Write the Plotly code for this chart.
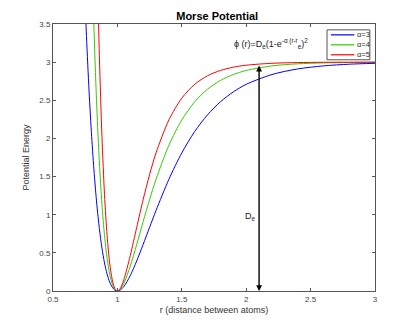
import plotly.graph_objects as go

# distance r (shared sample points)
r3 = [0.74, 0.76, 0.78, 0.80, 0.82, 0.84, 0.86, 0.88, 0.90, 0.92, 0.94, 0.96, 0.98, 1.00,
      1.02, 1.05, 1.10, 1.15, 1.20, 1.25, 1.30, 1.40, 1.50, 1.60, 1.70, 1.80, 1.90, 2.00,
      2.20, 2.40, 2.60, 2.80, 3.00]
v3 = [4.188, 3.335, 2.622, 2.028, 1.538, 1.139, 0.817, 0.563, 0.367, 0.221, 0.117, 0.049, 0.011, 0.0,
      0.010, 0.058, 0.202, 0.394, 0.611, 0.835, 1.056, 1.465, 1.811, 2.090, 2.310, 2.480, 2.610, 2.709,
      2.838, 2.911, 2.951, 2.973, 2.985]

r4 = [0.80, 0.82, 0.84, 0.86, 0.88, 0.90, 0.92, 0.94, 0.96, 0.98, 1.00,
      1.02, 1.05, 1.10, 1.15, 1.20, 1.25, 1.30, 1.40, 1.50, 1.60, 1.70, 1.80, 1.90, 2.00,
      2.20, 2.40, 2.60, 2.80, 3.00]
v4 = [4.506, 3.335, 2.411, 1.691, 1.139, 0.726, 0.427, 0.221, 0.090, 0.021, 0.0,
      0.018, 0.099, 0.326, 0.611, 0.910, 1.199, 1.465, 1.911, 2.243, 2.480, 2.646, 2.760, 2.838, 2.891,
      2.951, 2.978, 2.990, 2.9955, 2.998]

r5 = [0.84, 0.86, 0.88, 0.90, 0.92, 0.94, 0.96, 0.98, 1.00,
      1.02, 1.05, 1.10, 1.15, 1.20, 1.25, 1.30, 1.40, 1.50, 1.60, 1.70, 1.80, 1.90, 2.00,
      2.20, 2.40, 2.60, 2.80, 3.00]
v5 = [4.506, 3.083, 2.028, 1.262, 0.726, 0.367, 0.147, 0.033, 0.0,
      0.027, 0.147, 0.465, 0.835, 1.199, 1.527, 1.811, 2.243, 2.528, 2.709, 2.822, 2.891, 2.934, 2.960,
      2.985, 2.9945, 2.998, 2.999, 3.000]

series_names = ["α=3", "α=4", "α=5"]
series_colors = ["#0000ff", "#33cc00", "#ff0000"]

x_ticks = [0.5, 1, 1.5, 2, 2.5, 3]
x_tick_labels = ["0.5", "1", "1.5", "2", "2.5", "3"]
y_ticks = [0, 0.5, 1, 1.5, 2, 2.5, 3, 3.5]
y_tick_labels = ["0", "0.5", "1", "1.5", "2", "2.5", "3", "3.5"]

arrow_x = 2.1
arrow_top = 2.955
de_label_pos = (2.03, 0.98)
formula_pos = (2.19, 3.25)

fig = go.Figure()
for rr, vv, nm, col in zip([r3, r4, r5], [v3, v4, v5], series_names, series_colors):
    fig.add_trace(go.Scatter(x=rr, y=vv, mode="lines", name=nm, showlegend=False,
                             line=dict(color=col, width=1, shape="spline", smoothing=0.8)))

# double-headed arrow for D_e
for tip, tail in [(arrow_top, 0), (0, arrow_top)]:
    fig.add_annotation(x=arrow_x, y=tip, ax=arrow_x, ay=tail, xref="x", yref="y",
                       axref="x", ayref="y", showarrow=True, arrowhead=2, arrowsize=1.3,
                       arrowwidth=0.9, arrowcolor="black", text="")
fig.add_annotation(x=de_label_pos[0], y=de_label_pos[1], xref="x", yref="y",
                   text="D<sub>e</sub>", showarrow=False,
                   font=dict(size=9, color="#222"))
fig.add_annotation(x=formula_pos[0], y=formula_pos[1], xref="x", yref="y",
                   text="ϕ (r)=D<sub>e</sub>(1-e<sup>-α (r-r</sup><sub>e</sub>)<sup>2</sup>",
                   showarrow=False, font=dict(size=9, color="#222"))

# hand-drawn legend box (paper coordinates) in the top-right corner
lg_x0, lg_x1, lg_y0, lg_y1 = 0.851, 0.984, 0.866, 0.978
fig.add_shape(type="rect", xref="paper", yref="paper", x0=lg_x0, x1=lg_x1, y0=lg_y0, y1=lg_y1,
              line=dict(color="#555", width=1), fillcolor="white", layer="above")
for i, (nm, col) in enumerate(zip(series_names, series_colors)):
    yy = lg_y1 - (i + 0.5) * (lg_y1 - lg_y0) / 3
    fig.add_shape(type="line", xref="paper", yref="paper", x0=lg_x0 + 0.012, x1=lg_x0 + 0.085,
                  y0=yy, y1=yy, line=dict(color=col, width=1.2), layer="above")
    fig.add_annotation(xref="paper", yref="paper", x=lg_x0 + 0.088, y=yy, text=nm,
                       showarrow=False, xanchor="left", yanchor="middle",
                       font=dict(size=7.5, color="#333"))

axis_common = dict(showgrid=False, zeroline=False, showline=True, linecolor="#555",
                   linewidth=1, mirror="ticks", ticks="inside", ticklen=3, tickcolor="#555",
                   tickfont=dict(size=8, color="#444"), automargin=False)
fig.update_xaxes(range=[0.5, 3], tickvals=x_ticks, ticktext=x_tick_labels,
                 title=dict(text="r (distance between atoms)", font=dict(size=9, color="#333"), standoff=4),
                 **axis_common)
fig.update_yaxes(range=[0, 3.5], tickvals=y_ticks, ticktext=y_tick_labels,
                 title=dict(text="Potential Energy", font=dict(size=9, color="#333"), standoff=8),
                 **axis_common)

# page body has an 8px default margin; figure sized so the plot area lands where the reference has it
fig.update_layout(
    width=407, height=319,
    margin=dict(l=45, r=40, t=16, b=36, autoexpand=False),
    paper_bgcolor="white", plot_bgcolor="white",
    font=dict(family="Liberation Sans, Arial, sans-serif"),
    title=dict(text="<b>Morse Potential</b>", x=0.514, xanchor="center", y=0.975, yanchor="middle",
               font=dict(size=11, color="black")),
    showlegend=False,
)

fig.write_html("out.html")
